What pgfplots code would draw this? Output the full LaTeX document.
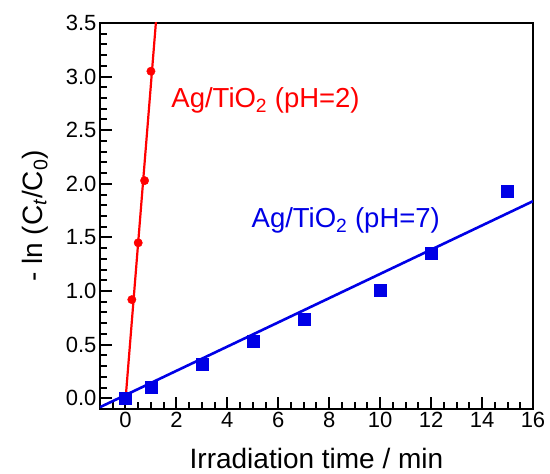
\documentclass[border=0pt]{standalone}
\usepackage{fontspec}
\setmainfont{Liberation Sans}
\usepackage{pgfplots}
\pgfplotsset{compat=1.18}
\definecolor{rd}{RGB}{255,0,0}
\definecolor{bl}{RGB}{0,0,230}

\begin{document}
\begin{tikzpicture}
\begin{axis}[
    name=ax,
    scale only axis,
    width=433pt, height=386pt,
    xmin=-1, xmax=16, ymin=-0.1, ymax=3.5,
    xtick={0,2,...,16}, minor x tick num=3,
    ytick={0,0.5,...,3.5}, minor y tick num=4,
    tick pos=left,
    tick align=inside,
    major tick length=12pt, minor tick length=7pt,
    tick style={black, line width=2pt},
    axis line style={line width=2.4pt},
    /pgf/number format/assume math mode=true,
    yticklabel style={/pgf/number format/fixed, /pgf/number format/fixed zerofill, /pgf/number format/precision=1},
    ticklabel style={font=\fontsize{22}{24}\selectfont},
    xlabel={Irradiation time / min},
    ylabel={- ln (C\textsubscript{\textit{t}}/C\textsubscript{0})},
    label style={font=\fontsize{28}{31}\selectfont},
    xlabel style={at={(axis description cs:0.5,-0.155)}, anchor=base},
    ylabel style={at={(axis description cs:-0.150,0.5)}, anchor=center},
    clip=true,
]
% tick marks drawn along the bottom and left edges
\pgfplotsinvokeforeach{-0.5,0,...,16}{\draw[line width=2pt] (axis cs:#1,-0.1) -- ([yshift=7pt]axis cs:#1,-0.1);}
\pgfplotsinvokeforeach{0,2,...,16}{\draw[line width=2pt] (axis cs:#1,-0.1) -- ([yshift=12pt]axis cs:#1,-0.1);}
\pgfplotsinvokeforeach{0,0.1,...,3.45}{\draw[line width=2pt] (axis cs:-1,#1) -- ([xshift=7pt]axis cs:-1,#1);}
\pgfplotsinvokeforeach{0,0.5,...,3.5}{\draw[line width=2pt] (axis cs:-1,#1) -- ([xshift=12pt]axis cs:-1,#1);}
% fits
\addplot[rd, line width=2.2pt] coordinates {(0,-0.02) (1.2,3.52)};
\addplot[bl, line width=2.6pt] coordinates {(-1,-0.083) (16,1.838)};
% data
\addplot[only marks, mark=*, mark size=4.2pt, rd] coordinates {
    (0.25,0.92) (0.5,1.45) (0.75,2.03) (1,3.05)};
\addplot[only marks, mark=square*, mark size=6pt, bl] coordinates {
    (0,0) (1,0.105) (3,0.32) (5,0.53) (7,0.74) (10,1.01) (12,1.35) (15,1.93)};
\node[rd, font=\fontsize{27.5}{30}\selectfont] at (axis cs:5.5,2.78) {Ag/TiO\textsubscript{2} (pH=2)};
\node[bl, font=\fontsize{27.5}{30}\selectfont] at (axis cs:8.65,1.66) {Ag/TiO\textsubscript{2} (pH=7)};
\end{axis}
\pgfresetboundingbox
\path[use as bounding box] ([shift={(-100pt,-65pt)}]ax.south west) rectangle ([shift={(17pt,23pt)}]ax.north east);
\end{tikzpicture}
\end{document}
